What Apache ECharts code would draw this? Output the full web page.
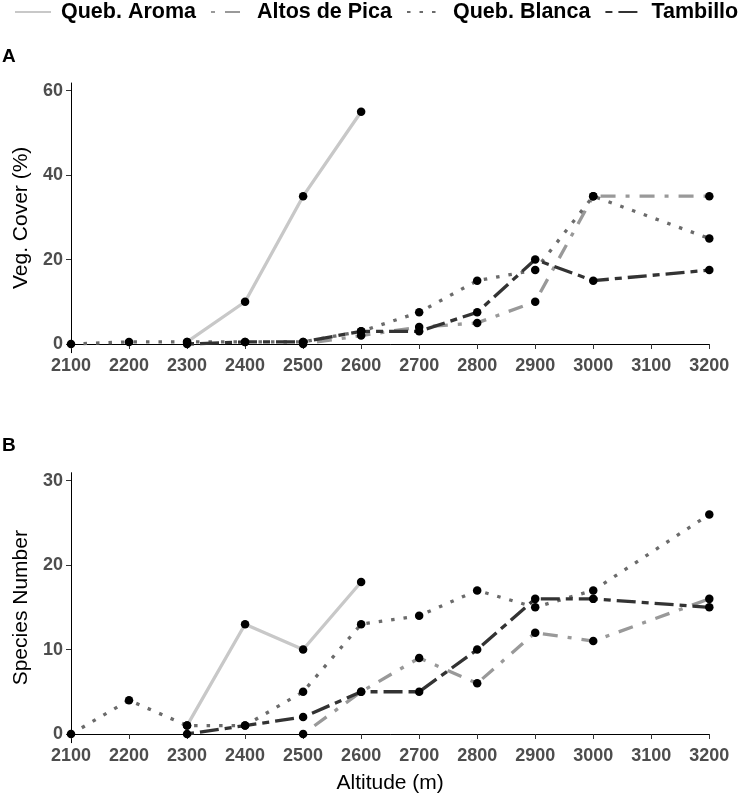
<!DOCTYPE html>
<html>
<head>
<meta charset="utf-8">
<script src="https://cdn.jsdelivr.net/npm/echarts@6/dist/echarts.min.js"></script>
<style>
html,body{margin:0;padding:0;background:#fff;}
#chart{width:740px;height:798px;}
</style>
</head>
<body>
<div id="chart"></div>
<script>
var altitude = [2100,2200,2300,2400,2500,2600,2700,2800,2900,3000,3100,3200];
var seriesNames = ['Queb. Aroma','Altos de Pica','Queb. Blanca','Tambillo'];

var aromaCover    = [null,null,0.5,10,35,55,null,null,null,null,null,null];
var altosCover    = [null,null,null,null,0,2,4,5,10,35,null,35];
var blancaCover   = [0,0.5,0.5,0.5,0.5,3,7.5,15,17.5,35,null,25];
var tambilloCover = [null,null,0,0.5,0.5,3,3,7.5,20,15,null,17.5];

var aromaSpecies    = [null,null,1,13,10,18,null,null,null,null,null,null];
var altosSpecies    = [null,null,null,null,0,5,9,6,12,11,null,16];
var blancaSpecies   = [0,4,1,1,5,13,14,17,15,17,null,26];
var tambilloSpecies = [null,null,0,1,2,5,5,10,16,16,null,15];

var coverTicks = [0,20,40,60];
var speciesTicks = [0,10,20,30];

var styles = [
  {color:'#c8c8c8', type:'solid'},
  {color:'#999999', type:[4,10,15,10]},
  {color:'#6b6b6b', type:[3.5,9]},
  {color:'#333333', type:[7,6,19,6]}
];

function pairs(vals){
  var out = [];
  for (var i=0;i<altitude.length;i++){
    if (vals[i] !== null) out.push([altitude[i], vals[i]]);
  }
  return out;
}

var FONT = 'Liberation Sans, Arial, sans-serif';
var coverSets = [aromaCover, altosCover, blancaCover, tambilloCover];
var speciesSets = [aromaSpecies, altosSpecies, blancaSpecies, tambilloSpecies];

var series = [];
[coverSets, speciesSets].forEach(function(sets, g){
  sets.forEach(function(vals, k){
    series.push({
      name: seriesNames[k], type:'line', xAxisIndex:g, yAxisIndex:g,
      data: pairs(vals), symbol:'none', connectNulls:true,
      lineStyle:{color:styles[k].color, width:3.3, type:styles[k].type, cap:'butt'},
      itemStyle:{color:styles[k].color},
      z:2, silent:true
    });
  });
  sets.forEach(function(vals, k){
    series.push({
      type:'scatter', xAxisIndex:g, yAxisIndex:g,
      data: pairs(vals), symbol:'circle', symbolSize:8.5,
      itemStyle:{color:'#000', opacity:1}, z:5, silent:true
    });
  });
});

function xAxisCfg(idx, withName){
  var c = {
    type:'value', gridIndex:idx, min:2100, max:3200, interval:100,
    axisLine:{show:true, lineStyle:{color:'#000', width:1}},
    axisTick:{show:true, length:5, lineStyle:{color:'#333'}},
    axisLabel:{color:'#4d4d4d', fontWeight:'bold', fontSize:18, fontFamily:FONT, margin:4,
      formatter:function(v){ return String(v); }},
    splitLine:{show:false}
  };
  if (withName){
    c.name = 'Altitude (m)';
    c.nameLocation = 'middle';
    c.nameGap = 30;
    c.nameTextStyle = {color:'#000', fontSize:21, fontFamily:FONT};
  }
  return c;
}
function yAxisCfg(idx, mn, mx, ticks, name){
  return {
    type:'value', gridIndex:idx, min:mn, max:mx,
    name:name, nameLocation:'middle', nameGap:36,
    nameTextStyle:{color:'#000', fontSize:21, fontFamily:FONT},
    axisLine:{show:true, lineStyle:{color:'#000', width:1}},
    axisTick:{show:true, length:5, lineStyle:{color:'#333'}, customValues:ticks},
    axisLabel:{color:'#4d4d4d', fontWeight:'bold', fontSize:18, fontFamily:FONT, margin:8, customValues:ticks},
    splitLine:{show:false}
  };
}

var chart = echarts.init(document.getElementById('chart'));
chart.setOption({
  animation:false,
  backgroundColor:'#fff',
  legend:{
    data:seriesNames, left:14, top:1, padding:0,
    itemWidth:36, itemHeight:14, itemGap:14,
    itemStyle:{opacity:0, borderWidth:0},
    textStyle:{color:'#000', fontWeight:'bold', fontSize:21.5, fontFamily:FONT, padding:[0,0,0,5]}
  },
  graphic:[
    {type:'text', left:2, top:47, style:{text:'A', fontSize:19, fontWeight:'bold', fontFamily:FONT, fill:'#000'}},
    {type:'text', left:2, top:436, style:{text:'B', fontSize:19, fontWeight:'bold', fontFamily:FONT, fill:'#000'}}
  ],
  grid:[
    {left:71, top:83, width:638.3, height:269.7},
    {left:71, top:472.7, width:638.3, height:270}
  ],
  xAxis:[xAxisCfg(0,false), xAxisCfg(1,true)],
  yAxis:[
    yAxisCfg(0, -2.06, 61.8, coverTicks, 'Veg. Cover (%)'),
    yAxisCfg(1, -1.03, 30.94, speciesTicks, 'Species Number')
  ],
  series:series
});
</script>
</body>
</html>
